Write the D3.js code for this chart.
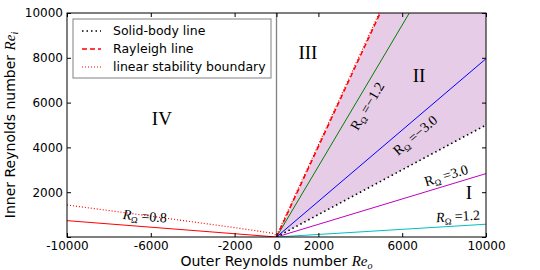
<!DOCTYPE html>
<html>
<head>
<meta charset="utf-8">
<script src="https://cdn.jsdelivr.net/npm/d3@7"></script>
<style>
  body { margin: 0; background: #fff; }
  svg { display: block; }
  .tick text { font-family: "DejaVu Sans", sans-serif; font-size: 12px; fill: #000; }
</style>
</head>
<body>
<div id="chart"></div>
<script>
// Axis ticks
const xTicks = [-10000, -6000, -2000, 0, 2000, 6000, 10000];
const yTicks = [0, 2000, 4000, 6000, 8000, 10000];

// Reference lines (Re_o, Re_i)
const solidBodyLine = [[0, 0], [10000, 5000]];
const rayleighLine = [[0, 0], [4950, 10000]];
const stabilityBoundary = [[-10000, 1430], [-6000, 930], [-2000, 420], [-200, 170], [0, 60], [4900, 10000]];

// Constant R_Omega lines, all start at the origin
const rOmegaValues = ['0.8', '\u22121.2', '\u22123.0', '3.0', '1.2'];
const rOmegaEndRe_o = [-10000, 6340, 10000, 10000, 10000];
const rOmegaEndRe_i = [730, 10000, 7960, 2830, 570];
const rOmegaColors = ['#ff0000', '#008000', '#0000ff', '#bf00bf', '#00bfbf'];

// Region names
const regionNames = ['I', 'II', 'III', 'IV'];

const width = 540, height = 270;
const margin = { top: 13, right: 54, bottom: 33, left: 67 };
const w = width - margin.left - margin.right;
const h = height - margin.top - margin.bottom;

const x = d3.scaleLinear().domain([-10000, 10000]).range([0, w]);
const y = d3.scaleLinear().domain([0, 10000]).range([h, 0]);

const svg = d3.select('#chart').append('svg')
  .attr('width', width)
  .attr('height', height);

svg.append('defs').append('clipPath').attr('id', 'clip')
  .append('rect').attr('width', w).attr('height', h);

const g = svg.append('g').attr('transform', `translate(${margin.left},${margin.top})`);
const plot = g.append('g').attr('clip-path', 'url(#clip)');

const line = d3.line().x(d => x(d[0])).y(d => y(d[1]));

// Shaded region II: between Rayleigh line and solid-body line
const regionII = [rayleighLine[0], rayleighLine[1], [10000, 10000], solidBodyLine[1]];
plot.append('path')
  .attr('d', line(regionII) + 'Z')
  .style('fill', '#e6cce6')
  .style('stroke', 'none');

// vertical line at Re_o = 0
plot.append('line')
  .attr('x1', x(0)).attr('x2', x(0))
  .attr('y1', 0).attr('y2', h)
  .style('stroke', '#808080')
  .style('stroke-width', 1.3);

// R_Omega lines
rOmegaValues.forEach((v, i) => {
  plot.append('path')
    .attr('d', line([[0, 0], [rOmegaEndRe_o[i], rOmegaEndRe_i[i]]]))
    .style('fill', 'none')
    .style('stroke', rOmegaColors[i])
    .style('stroke-width', 1);
});

plot.append('path')
  .attr('d', line(stabilityBoundary))
  .style('fill', 'none')
  .style('stroke', '#ff0000')
  .style('stroke-width', 1.2)
  .style('stroke-dasharray', '1,2');

plot.append('path')
  .attr('d', line(rayleighLine))
  .style('fill', 'none')
  .style('stroke', '#ff0000')
  .style('stroke-width', 1.5)
  .style('stroke-dasharray', '5,3');

plot.append('path')
  .attr('d', line(solidBodyLine))
  .style('fill', 'none')
  .style('stroke', '#000')
  .style('stroke-width', 1.6)
  .style('stroke-dasharray', '1.5,3');

// R_Omega labels, placed next to their lines
const labelPos = [[-6280, 940], [4320, 5850], [6610, 4550], [8090, 2760], [8660, 940]];
const labelItalic = [true, false, false, false, true];
rOmegaValues.forEach((v, i) => {
  const x0 = x(0), y0 = y(0);
  const x1 = x(rOmegaEndRe_o[i]), y1 = y(rOmegaEndRe_i[i]);
  let angle = Math.atan2(y1 - y0, x1 - x0) * 180 / Math.PI;
  if (x1 < x0) angle = Math.atan2(y0 - y1, x0 - x1) * 180 / Math.PI;
  const t = g.append('text')
    .attr('transform', `translate(${x(labelPos[i][0])},${y(labelPos[i][1])}) rotate(${angle})`)
    .attr('text-anchor', 'middle')
    .attr('dy', '0.35em')
    .style('font-family', '"Liberation Serif", serif')
    .style('font-size', '14px')
    .style('fill', '#000');
  t.append('tspan').style('font-style', labelItalic[i] ? 'italic' : 'normal').text('R');
  t.append('tspan').attr('dy', 3).style('font-size', '9px').text('\u03A9');
  t.append('tspan').attr('dy', -3).text(' =' + v);
});

// Region numerals
const regionPos = [[9190, 2010], [6800, 7230], [1500, 8260], [-5470, 5310]];
regionNames.forEach((r, i) => {
  g.append('text')
    .attr('x', x(regionPos[i][0]))
    .attr('y', y(regionPos[i][1]))
    .attr('text-anchor', 'middle')
    .attr('dy', '0.35em')
    .style('font-family', '"Liberation Serif", serif')
    .style('font-size', '19px')
    .style('fill', '#000')
    .text(r);
});

// Axes, ticks pointing inward
g.append('g').attr('transform', `translate(0,${h})`)
  .call(d3.axisBottom(x).tickValues(xTicks).tickSize(-4).tickPadding(4).tickFormat(d => String(d)))
  .call(a => a.select('.domain').remove());
g.append('g')
  .call(d3.axisTop(x).tickValues(xTicks).tickSize(-4).tickFormat(''))
  .call(a => a.select('.domain').remove());
g.append('g')
  .call(d3.axisLeft(y).tickValues(yTicks).tickSize(-4).tickPadding(4).tickFormat(d => d === 0 ? '' : String(d)))
  .call(a => a.select('.domain').remove());
g.append('g').attr('transform', `translate(${w},0)`)
  .call(d3.axisRight(y).tickValues(yTicks).tickSize(-4).tickFormat(''))
  .call(a => a.select('.domain').remove());

g.append('rect')
  .attr('width', w).attr('height', h)
  .style('fill', 'none')
  .style('stroke', '#000')
  .style('stroke-width', 1);

// Axis labels
const xLabel = g.append('text')
  .attr('x', w / 2).attr('y', h + 29)
  .attr('text-anchor', 'middle')
  .style('font-family', '"DejaVu Sans", sans-serif')
  .style('font-size', '14px');
xLabel.append('tspan').text('Outer Reynolds number ');
xLabel.append('tspan').style('font-family', '"Liberation Serif", serif').style('font-style', 'italic').style('font-size', '15px').text('Re');
xLabel.append('tspan').attr('dy', 3).style('font-family', '"Liberation Serif", serif').style('font-style', 'italic').style('font-size', '10px').text('o');

const yLabel = g.append('text')
  .attr('transform', `translate(${-52},${h / 2}) rotate(-90)`)
  .attr('text-anchor', 'middle')
  .style('font-family', '"DejaVu Sans", sans-serif')
  .style('font-size', '14px');
yLabel.append('tspan').text('Inner Reynolds number ');
yLabel.append('tspan').style('font-family', '"Liberation Serif", serif').style('font-style', 'italic').style('font-size', '15px').text('Re');
yLabel.append('tspan').attr('dy', 3).style('font-family', '"Liberation Serif", serif').style('font-style', 'italic').style('font-size', '10px').text('i');

// Legend
const legendNames = ['Solid-body line', 'Rayleigh line', 'linear stability boundary'];
const legendStyles = [
  { color: '#000', dash: '1.5,3', width: 1.4 },
  { color: '#ff0000', dash: '5,3', width: 1.5 },
  { color: '#ff0000', dash: '1,2', width: 1.2 }
];
const legend = g.append('g').attr('transform', 'translate(6,6)');
legend.append('rect')
  .attr('width', 198).attr('height', 59)
  .style('fill', '#fff')
  .style('stroke', '#808080')
  .style('stroke-width', 1);
legendNames.forEach((name, i) => {
  const ly = 12 + i * 18;
  legend.append('line')
    .attr('x1', 9).attr('x2', 28).attr('y1', ly).attr('y2', ly)
    .style('stroke', legendStyles[i].color)
    .style('stroke-width', legendStyles[i].width)
    .style('stroke-dasharray', legendStyles[i].dash);
  legend.append('text')
    .attr('x', 40).attr('y', ly).attr('dy', '0.35em')
    .style('font-family', '"DejaVu Sans", sans-serif')
    .style('font-size', '12.5px')
    .text(name);
});
</script>
</body>
</html>
